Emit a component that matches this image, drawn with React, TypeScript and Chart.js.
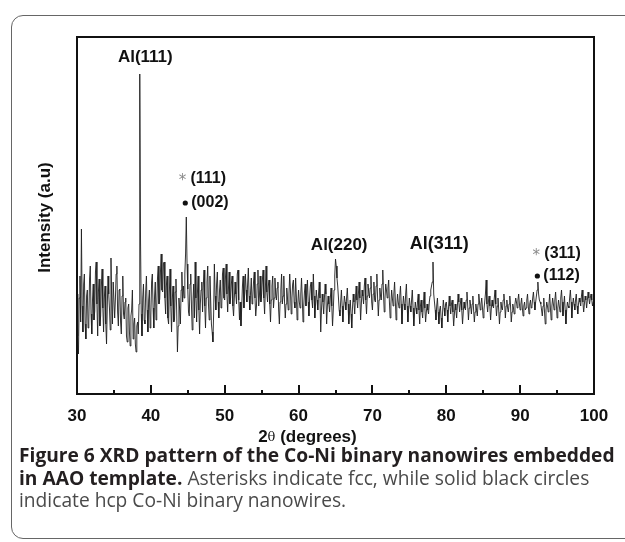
import React, { useEffect, useRef } from "react";
import { Chart, registerables } from "chart.js";

Chart.register(...registerables);

// XRD scan: 2θ from 30° to 100°, step 0.1°, intensity in arbitrary units
const scanStart = 30;
const scanStep = 0.1;

const scan30to40 = [
  100, 58, 40, 96, 118, 72, 165, 88, 62, 110,
  120, 70, 55, 98, 104, 66, 72, 115, 128, 80,
  60, 94, 110, 74, 83, 122, 132, 90, 58, 102,
  115, 68, 78, 108, 125, 86, 62, 96, 108, 70,
  50, 88, 118, 100, 85, 64, 136, 94, 70, 112,
  112, 76, 95, 120, 128, 82, 68, 104, 105, 72,
  60, 98, 118, 80, 75, 92, 96, 58, 52, 86,
  90, 62, 48, 78, 84, 104, 55, 70, 76, 50,
  42, 68, 72, 60, 90, 320, 154, 80, 58, 96,
  110, 74, 70, 102, 118, 84, 62, 94, 104, 66,
];
const scan40to50 = [
  78, 112, 120, 86, 66, 98, 112, 74, 88, 116,
  128, 90, 95, 122, 140, 104, 102, 130, 132, 96,
  80, 108, 118, 76, 70, 100, 125, 88, 62, 94,
  108, 72, 74, 102, 115, 82, 42, 68, 96, 84,
  70, 104, 122, 92, 108, 96, 120, 140, 177, 130,
  105, 82, 78, 110, 120, 88, 64, 92, 110, 76,
  132, 96, 72, 100, 118, 84, 60, 90, 104, 112,
  82, 108, 124, 88, 66, 96, 112, 128, 90, 74,
  118, 94, 70, 62, 52, 80, 130, 98, 84, 110,
  122, 92, 76, 104, 114, 86, 88, 120, 126, 96,
];
const scan50to60 = [
  94, 116, 130, 100, 82, 104, 122, 90, 96, 110,
  118, 88, 78, 96, 112, 100, 90, 120, 124, 94,
  74, 92, 68, 86, 108, 118, 86, 100, 120, 104,
  92, 110, 126, 98, 84, 102, 116, 90, 96, 112,
  122, 96, 78, 88, 110, 124, 88, 98, 118, 92,
  100, 114, 124, 96, 80, 104, 128, 102, 92, 108,
  114, 90, 72, 94, 108, 118, 86, 96, 116, 100,
  94, 106, 112, 84, 70, 92, 104, 120, 90, 98,
  118, 92, 76, 90, 106, 96, 84, 100, 120, 104,
  80, 96, 110, 114, 92, 86, 116, 98, 74, 90,
];
const scan60to70 = [
  104, 92, 86, 100, 116, 96, 72, 88, 102, 110,
  88, 100, 114, 92, 78, 96, 108, 112, 94, 86,
  120, 98, 76, 90, 104, 94, 84, 100, 112, 96,
  62, 84, 100, 92, 80, 96, 110, 100, 70, 88,
  98, 90, 82, 96, 106, 88, 68, 84, 104, 118,
  135, 128, 116, 108, 96, 84, 78, 92, 104, 88,
  72, 86, 98, 92, 84, 96, 106, 90, 70, 82,
  94, 80, 66, 86, 100, 92, 80, 96, 108, 94,
  86, 100, 112, 96, 74, 90, 104, 98, 90, 108,
  116, 94, 80, 98, 110, 102, 96, 106, 118, 92,
];
const scan70to80 = [
  84, 100, 112, 94, 92, 108, 120, 96, 78, 94,
  106, 98, 94, 110, 124, 100, 82, 96, 110, 104,
  96, 106, 114, 92, 76, 90, 104, 96, 88, 100,
  112, 94, 74, 88, 100, 92, 86, 98, 108, 90,
  70, 86, 98, 90, 84, 100, 110, 88, 72, 84,
  96, 88, 82, 94, 104, 86, 68, 80, 92, 86,
  80, 92, 100, 84, 70, 88, 94, 82, 76, 90,
  102, 86, 72, 82, 90, 84, 80, 92, 98, 104,
  108, 112, 132, 100, 92, 84, 74, 88, 96, 82,
  70, 84, 88, 76, 66, 82, 94, 86, 78, 90,
];
const scan80to90 = [
  92, 84, 72, 86, 98, 88, 80, 90, 94, 82,
  68, 80, 90, 84, 76, 88, 100, 92, 82, 90,
  96, 84, 70, 82, 92, 86, 84, 94, 102, 88,
  74, 86, 94, 88, 80, 90, 98, 84, 72, 82,
  90, 84, 78, 90, 100, 92, 84, 90, 96, 86,
  76, 84, 92, 100, 114, 90, 82, 92, 98, 88,
  74, 86, 94, 88, 86, 96, 104, 90, 78, 88,
  96, 84, 70, 82, 92, 86, 84, 94, 100, 90,
  76, 88, 94, 86, 82, 90, 98, 88, 72, 82,
  90, 86, 80, 90, 96, 92, 86, 94, 100, 90,
];
const scan90to100 = [
  84, 90, 96, 86, 78, 88, 92, 84, 86, 94,
  100, 88, 80, 90, 94, 86, 88, 96, 102, 92,
  84, 92, 98, 104, 112, 100, 94, 92, 90, 84,
  78, 88, 96, 82, 70, 84, 92, 88, 82, 90,
  100, 86, 74, 88, 96, 90, 84, 94, 102, 90,
  76, 86, 94, 88, 82, 96, 104, 92, 78, 88,
  98, 84, 70, 84, 92, 88, 86, 96, 104, 92,
  76, 88, 96, 90, 84, 94, 100, 88, 80, 90,
  96, 92, 88, 98, 104, 92, 82, 90, 98, 94,
  86, 94, 102, 96, 90, 96, 100, 94, 88, 92,
  94,
];

const intensity = [
  ...scan30to40,
  ...scan40to50,
  ...scan50to60,
  ...scan60to70,
  ...scan70to80,
  ...scan80to90,
  ...scan90to100,
];

const xMajorTicks = [30, 40, 50, 60, 70, 80, 90, 100];
const xMinorTicks = [35, 45, 55, 65, 75, 85, 95];

// Peak annotations
const peakNames = ["Al(111)", "Al(220)", "Al(311)"];
const peakNameAt = [39.25, 65.5, 79.05];
const peakNameLevel = [337, 149, 150];
const peakNameSize = [17, 17, 18];

// Phase markers: fcc (asterisk) / hcp (dot)
const fccLabels = ["(111)", "(311)"];
const fccAt = [44.28, 92.19];
const fccLevel = [215, 140];
const hcpLabels = ["(002)", "(112)"];
const hcpAt = [44.66, 92.33];
const hcpLevel = [191, 118];

const yMax = 357;

const BOLD = "bold 17px 'Liberation Sans', Arial, Helvetica, sans-serif";

const decorPlugin = {
  id: "decor",
  afterDraw(chart: any) {
    const { ctx, chartArea: a, scales } = chart;
    const x = scales.x;
    const y = scales.y;
    ctx.save();
    // frame
    ctx.strokeStyle = "#111";
    ctx.lineWidth = 2;
    ctx.strokeRect(a.left, a.top, a.right - a.left, a.bottom - a.top);
    // inward ticks
    ctx.beginPath();
    for (const t of xMajorTicks) {
      const px = Math.round(x.getPixelForValue(t));
      ctx.moveTo(px, a.bottom);
      ctx.lineTo(px, a.bottom - 9);
    }
    for (const t of xMinorTicks) {
      const px = Math.round(x.getPixelForValue(t));
      ctx.moveTo(px, a.bottom);
      ctx.lineTo(px, a.bottom - 4);
    }
    ctx.stroke();

    ctx.fillStyle = "#111";
    ctx.textBaseline = "middle";
    peakNames.forEach((t, i) => {
      ctx.font = `bold ${peakNameSize[i]}px 'Liberation Sans', Arial, sans-serif`;
      ctx.textAlign = "center";
      ctx.fillText(t, x.getPixelForValue(peakNameAt[i]), y.getPixelForValue(peakNameLevel[i]));
    });
    fccLabels.forEach((t, i) => {
      const px = x.getPixelForValue(fccAt[i]);
      const py = y.getPixelForValue(fccLevel[i]);
      ctx.font = "15px 'DejaVu Sans', sans-serif";
      ctx.fillStyle = "#8a8a8a";
      ctx.textAlign = "center";
      ctx.fillText("*", px, py + 2);
      ctx.fillStyle = "#111";
      ctx.font = "bold 16px 'Liberation Sans', Arial, sans-serif";
      ctx.textAlign = "left";
      ctx.fillText(t, px + 8, py);
    });
    hcpLabels.forEach((t, i) => {
      const px = x.getPixelForValue(hcpAt[i]);
      const py = y.getPixelForValue(hcpLevel[i]);
      ctx.fillStyle = "#111";
      ctx.beginPath();
      ctx.arc(px, py, 2.6, 0, Math.PI * 2);
      ctx.fill();
      ctx.font = "bold 16px 'Liberation Sans', Arial, sans-serif";
      ctx.textAlign = "left";
      ctx.fillText(t, px + 6, py);
    });

    // x axis title: 2θ (degrees)
    const cx = x.getPixelForValue(61.2);
    const ty = a.bottom + 43;
    ctx.font = BOLD;
    const w2 = ctx.measureText("2").width;
    const wRest = ctx.measureText(" (degrees)").width;
    ctx.font = "13px 'DejaVu Serif', serif";
    const wTh = ctx.measureText("θ").width;
    let sx = cx - (w2 + wTh + wRest) / 2;
    ctx.textAlign = "left";
    ctx.font = BOLD;
    ctx.fillText("2", sx, ty);
    sx += w2;
    ctx.font = "13px 'DejaVu Serif', serif";
    ctx.fillText("θ", sx, ty + 1);
    sx += wTh;
    ctx.font = BOLD;
    ctx.fillText(" (degrees)", sx, ty);

    // y axis title
    ctx.translate(a.left - 32, (a.top + a.bottom) / 2 + 2);
    ctx.rotate(-Math.PI / 2);
    ctx.textAlign = "center";
    ctx.font = BOLD;
    ctx.fillText("Intensity (a.u)", 0, 0);
    ctx.restore();
  },
};

export default function App() {
  const canvasRef = useRef<HTMLCanvasElement | null>(null);

  useEffect(() => {
    if (!canvasRef.current) return;
    const points = intensity.map((v, i) => ({
      x: +(scanStart + i * scanStep).toFixed(1),
      y: v,
    }));
    const chart = new Chart(canvasRef.current, {
      type: "line",
      data: {
        datasets: [
          {
            data: points,
            borderColor: "#1e1e1e",
            borderWidth: 0.9,
            pointRadius: 0,
            tension: 0,
            fill: false,
          },
        ],
      },
      options: {
        animation: false,
        responsive: false,
        devicePixelRatio: 1,
        layout: { padding: { left: 77, right: 31, top: 37, bottom: 0 } },
        plugins: { legend: { display: false }, tooltip: { enabled: false }, title: { display: false } },
        scales: {
          x: {
            type: "linear",
            min: 30,
            max: 100,
            grid: { display: false, drawTicks: false },
            border: { display: false },
            ticks: {
              stepSize: 10,
              padding: 12,
              color: "#111",
              font: { family: "'Liberation Sans', Arial, sans-serif", size: 17, weight: "bold" },
              maxRotation: 0,
            },
            afterFit: (s: any) => {
              s.height = 148;
            },
          },
          y: {
            display: false,
            min: 0,
            max: yMax,
          },
        },
      },
      plugins: [decorPlugin],
    });
    return () => chart.destroy();
  }, []);

  const capBold: React.CSSProperties = { fontWeight: 700, color: "#231f20" };
  const lineStyle: React.CSSProperties = {
    position: "absolute",
    left: 19,
    whiteSpace: "nowrap",
    fontFamily: "'Open Sans', 'Noto Sans', sans-serif",
    fontSize: 19.2,
    lineHeight: "22px",
    color: "#4a4a4a",
  };

  return (
    <div
      style={{
        position: "absolute",
        left: 0,
        top: 0,
        width: 625,
        height: 542,
        overflow: "hidden",
        background: "#fff",
      }}
    >
      <div
        style={{
          position: "absolute",
          left: 11,
          top: 15,
          width: 660,
          height: 524,
          border: "1.5px solid #666",
          borderRadius: 12,
          boxSizing: "border-box",
        }}
      />
      <canvas ref={canvasRef} width={625} height={542} style={{ position: "absolute", left: 0, top: 0 }} />
      <div style={{ ...lineStyle, top: 444 }}>
        <span style={capBold}>Figure 6 XRD pattern of the Co-Ni binary nanowires embedded</span>
      </div>
      <div style={{ ...lineStyle, top: 467 }}>
        <span style={capBold}>in AAO template.</span> Asterisks indicate fcc, while solid black circles
      </div>
      <div style={{ ...lineStyle, top: 489 }}>indicate hcp Co-Ni binary nanowires.</div>
    </div>
  );
}
